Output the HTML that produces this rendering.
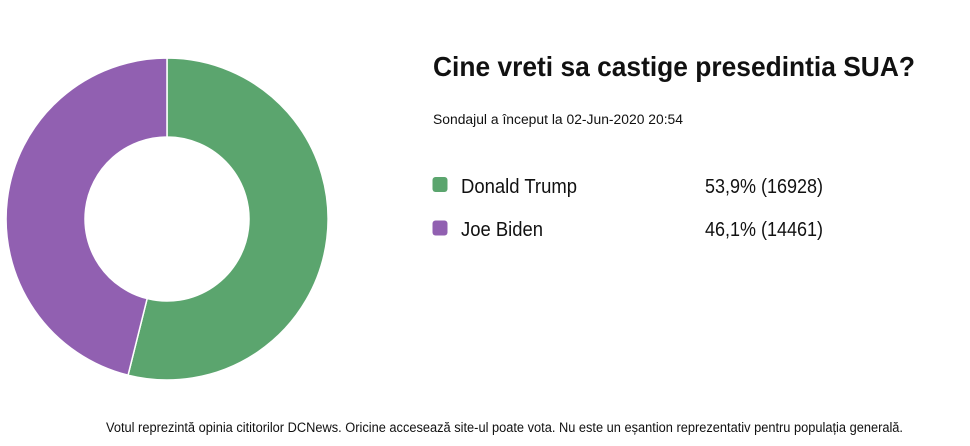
<!DOCTYPE html>
<html>
<head>
<meta charset="utf-8">
<style>
  html,body{margin:0;padding:0;background:#fff;}
  body{width:970px;height:446px;overflow:hidden;}
  svg{display:block;}
  text{font-family:"Liberation Sans", Arial, sans-serif;fill:#111;}
</style>
</head>
<body>
<svg width="970" height="446" viewBox="0 0 970 446" xmlns="http://www.w3.org/2000/svg">
  <rect width="970" height="446" fill="#fff"/>
  <!-- Donut -->
  <path d="M167,58 A161,161 0 1 1 128.05,375.2 L147.16,298.56 A82,82 0 1 0 167,137 Z" fill="#5BA56E" stroke="#fff" stroke-width="1.5" stroke-linejoin="miter"/>
  <path d="M128.05,375.2 A161,161 0 0 1 167,58 L167,137 A82,82 0 0 0 147.16,298.56 Z" fill="#9160B1" stroke="#fff" stroke-width="1.5" stroke-linejoin="miter"/>

  <!-- Title -->
  <text x="433" y="76" font-size="27.5" font-weight="bold" textLength="482" lengthAdjust="spacingAndGlyphs">Cine vreti sa castige presedintia SUA?</text>
  <!-- Subtitle -->
  <text x="433" y="124" font-size="13.5" textLength="250" lengthAdjust="spacingAndGlyphs">Sondajul a început la 02-Jun-2020 20:54</text>

  <!-- Legend -->
  <rect x="432.5" y="177" width="15" height="15" rx="3" ry="3" fill="#5BA56E"/>
  <text x="461" y="193" font-size="20" textLength="116" lengthAdjust="spacingAndGlyphs">Donald Trump</text>
  <text x="705" y="193" font-size="20" textLength="118" lengthAdjust="spacingAndGlyphs">53,9% (16928)</text>

  <rect x="432.5" y="220.5" width="15" height="15" rx="3" ry="3" fill="#9160B1"/>
  <text x="461" y="236" font-size="20" textLength="82" lengthAdjust="spacingAndGlyphs">Joe Biden</text>
  <text x="705" y="236" font-size="20" textLength="118" lengthAdjust="spacingAndGlyphs">46,1% (14461)</text>

  <!-- Footer -->
  <text x="106" y="432" font-size="13.5" textLength="797" lengthAdjust="spacingAndGlyphs">Votul reprezintă opinia cititorilor DCNews. Oricine accesează site-ul poate vota. Nu este un eșantion reprezentativ pentru populația generală.</text>
</svg>
</body>
</html>
